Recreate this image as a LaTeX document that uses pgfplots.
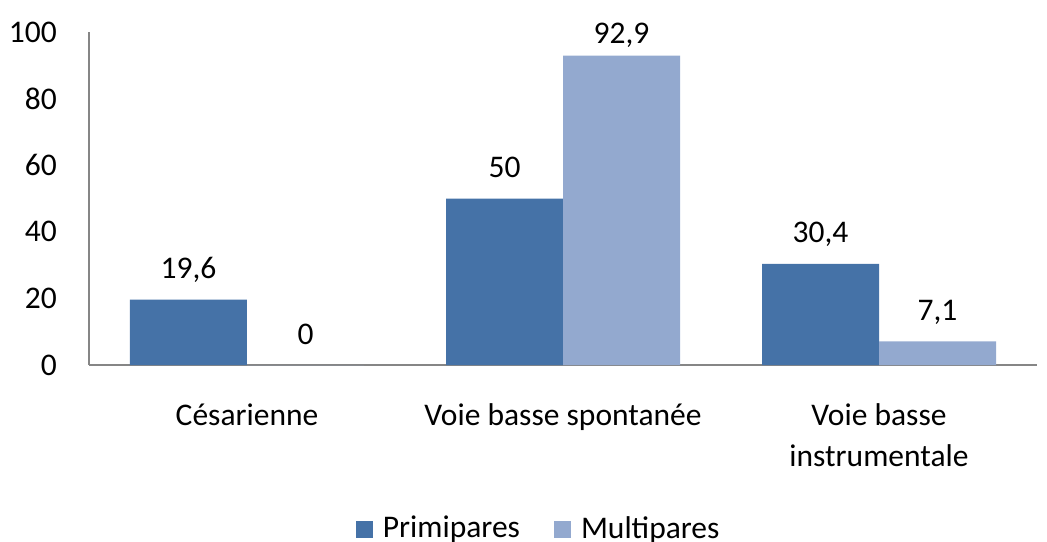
\documentclass[border=0pt]{standalone}
\usepackage{pgfplots}
\pgfplotsset{compat=1.18}
\usepackage{fontspec}
\setmainfont{Carlito}
\definecolor{prim}{HTML}{4572A7}
\definecolor{multi}{HTML}{93A9CF}
\definecolor{axisgray}{HTML}{868686}
\begin{document}
\fontsize{31.5}{41}\selectfont
\begin{tikzpicture}
\begin{axis}[
  name=ax,
  at={(0,0)}, anchor=south west,
  scale only axis, width=948pt, height=333pt,
  ybar=0pt, bar width=117pt,
  xmin=-0.5, xmax=2.5, ymin=0, ymax=100,
  xtick={0,1,2},
  xticklabels={C\'esarienne, Voie basse spontan\'ee, {\begin{tabular}[t]{@{}c@{}}Voie basse\\instrumentale\end{tabular}}},
  ytick={0,20,40,60,80,100},
  axis x line*=bottom, axis y line*=left,
  axis line style={axisgray, line width=2.8pt, -},
  major tick length=0pt,
  yticklabel style={anchor=east, inner sep=0pt, xshift=-32pt},
  xticklabel style={anchor=base, inner sep=0pt, yshift=-60pt},
  /pgf/number format/.cd, use comma, assume math mode=true, /pgfplots/.cd,
  visualization depends on={y \as \rawy},
  nodes near coords,
  every node near coord/.append style={anchor=base, inner sep=0pt, yshift={ifthenelse(\rawy>90,12,21)}},
  legend columns=2,
  area legend,
  legend image code/.code={\fill[#1] (0pt,-8.5pt) rectangle (17pt,8.5pt);},
  legend style={at={(0.2816,-0.494)}, anchor=west, draw=none, fill=none, inner sep=0pt, outer sep=0pt,
    nodes={inner sep=0pt}, column sep=10pt,
    /tikz/every even column/.append style={column sep=34pt}},
]
\addplot[fill=prim, draw=none] coordinates {(0,19.6) (1,50) (2,30.4)};
\addplot[fill=multi, draw=none] coordinates {(0,0) (1,92.9) (2,7.1)};
\legend{Primipares, Multipares}
\end{axis}
\pgfresetboundingbox
\path[use as bounding box] ([xshift=-89pt,yshift=-176pt]ax.south west) rectangle ([xshift=958pt,yshift=365pt]ax.south west);
\end{tikzpicture}
\end{document}
